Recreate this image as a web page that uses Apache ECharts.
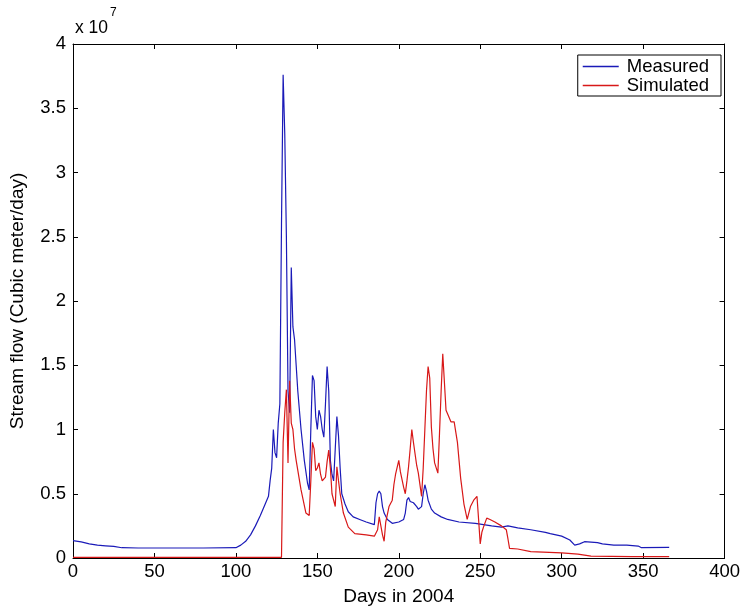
<!DOCTYPE html>
<html>
<head>
<meta charset="utf-8">
<script src="https://cdn.jsdelivr.net/npm/echarts@6/dist/echarts.min.js"></script>
<style>
  html, body { margin: 0; padding: 0; background: #fff; }
  #chart { width: 743px; height: 612px; }
</style>
</head>
<body>
<div id="chart"></div>
<script>
// values are in units of 1e7 cubic meter/day
const measuredDays = [0, 5, 10, 15, 20, 25, 30, 40, 60, 80, 100, 103, 106, 109, 112, 115, 118, 120, 121, 122, 123, 124, 125, 126, 127, 128, 129, 130, 131, 132, 133, 134, 135, 136, 137, 138, 140, 142, 144, 145, 146, 147, 148, 149, 150, 151, 152, 153, 154, 155, 156, 157, 158, 159, 160, 161, 162, 163, 164, 165, 167, 169, 172, 176, 180, 185, 186, 187, 188, 189, 190, 191, 193, 196, 200, 203, 204, 205, 206, 207, 209, 211, 212, 214, 215, 216, 217, 218, 220, 222, 226, 230, 237, 247, 257, 263, 267, 273, 281, 290, 293, 300, 305, 308, 311, 314, 322, 325, 332, 340, 347, 349, 366]
const measuredFlow = [0.135, 0.125, 0.11, 0.1, 0.095, 0.09, 0.08, 0.078, 0.078, 0.078, 0.08, 0.1, 0.13, 0.18, 0.25, 0.33, 0.42, 0.48, 0.6, 0.7, 1.0, 0.82, 0.78, 1.05, 1.2, 2.6, 3.76, 3.3, 2.5, 1.3, 1.13, 2.26, 1.8, 1.7, 1.5, 1.3, 1.0, 0.76, 0.58, 0.53, 1.0, 1.42, 1.38, 1.1, 1.0, 1.15, 1.1, 1.0, 0.94, 1.2, 1.49, 1.3, 0.76, 0.65, 0.6, 0.85, 1.1, 0.95, 0.7, 0.5, 0.42, 0.36, 0.32, 0.3, 0.28, 0.26, 0.43, 0.5, 0.52, 0.5, 0.4, 0.35, 0.3, 0.27, 0.28, 0.3, 0.35, 0.45, 0.47, 0.44, 0.43, 0.4, 0.38, 0.4, 0.5, 0.57, 0.52, 0.45, 0.38, 0.35, 0.32, 0.3, 0.28, 0.27, 0.25, 0.24, 0.25, 0.235, 0.22, 0.2, 0.19, 0.17, 0.14, 0.1, 0.11, 0.127, 0.12, 0.11, 0.1, 0.1, 0.093, 0.08, 0.083]

const simulatedDays = [0, 128, 129, 130, 131, 132, 133, 134, 135, 136, 137, 140, 143, 145, 146, 147, 148, 149, 150, 151, 152, 153, 155, 156, 157, 158, 159, 161, 162, 163, 164, 166, 169, 173, 180, 185, 187, 188, 189, 190, 191, 192, 194, 196, 197, 198, 200, 201, 203, 204, 205, 206, 207, 208, 209, 211, 212, 214, 215, 216, 217, 218, 219, 220, 221, 222, 224, 225, 226, 227, 228, 229, 230, 232, 234, 236, 238, 240, 242, 244, 246, 248, 249, 250, 251, 252, 254, 256, 259, 263, 266, 267, 268, 273, 281, 300, 310, 318, 343, 366]
const simulatedFlow = [0.005, 0.005, 0.9, 1.13, 1.31, 0.74, 1.38, 1.05, 1.0, 0.85, 0.76, 0.53, 0.35, 0.33, 0.6, 0.9, 0.85, 0.68, 0.7, 0.74, 0.65, 0.6, 0.63, 0.75, 0.84, 0.7, 0.5, 0.4, 0.71, 0.6, 0.5, 0.35, 0.24, 0.19, 0.18, 0.17, 0.22, 0.32, 0.25, 0.18, 0.13, 0.28, 0.4, 0.45, 0.57, 0.65, 0.76, 0.67, 0.55, 0.5, 0.6, 0.71, 0.85, 1.0, 0.9, 0.72, 0.66, 0.48, 0.7, 1.0, 1.3, 1.49, 1.4, 1.02, 0.85, 0.74, 0.66, 0.97, 1.3, 1.59, 1.37, 1.15, 1.12, 1.06, 1.06, 0.9, 0.62, 0.42, 0.3, 0.4, 0.45, 0.48, 0.3, 0.11, 0.2, 0.24, 0.31, 0.3, 0.28, 0.25, 0.22, 0.15, 0.075, 0.07, 0.05, 0.04, 0.03, 0.015, 0.01, 0.01]

const xTicks = { min: 0, max: 400, interval: 50 }
const yTicks = { min: 0, max: 4, interval: 0.5 }

const font = 'Liberation Sans, Arial, sans-serif'

function pairs (xs, ys) {
  return xs.map((x, i) => [x, ys[i]])
}

// mirror axes for the matlab style box (top / right), no labels
function mirrorAxis (base) {
  return Object.assign({
    type: 'value',
    axisLine: { show: true, onZero: false, lineStyle: { color: '#000', width: 1 } },
    axisTick: { show: true, inside: true, length: 5, lineStyle: { color: '#000' } },
    axisLabel: { show: false },
    splitLine: { show: false }
  }, base)
}

let myChart = echarts.init(document.getElementById('chart'))
myChart.setOption({
  animation: false,
  backgroundColor: '#fff',
  textStyle: { fontFamily: font },
  grid: { left: 73, right: 16, top: 44, bottom: 54, containLabel: false },
  legend: {
    orient: 'vertical',
    right: 22,
    top: 55,
    padding: [2, 12, 1, 5],
    itemGap: 0,
    itemWidth: 36,
    itemHeight: 1.5,
    icon: 'rect',
    backgroundColor: '#fff',
    borderColor: '#000',
    borderWidth: 1,
    borderRadius: 0,
    textStyle: { fontFamily: font, fontSize: 18.5, color: '#000', padding: [0, 0, 0, 3] },
    data: ['Measured', 'Simulated']
  },
  graphic: [{
    type: 'text',
    left: 75,
    top: 7,
    style: {
      text: '{a|x 10}{b|7}',
      rich: {
        a: { fontFamily: font, fontSize: 17.5, fill: '#000', verticalAlign: 'bottom', padding: [12, 0, 0, 0] },
        b: { fontFamily: font, fontSize: 12, fill: '#000', verticalAlign: 'top', padding: [0, 0, 12, 2] }
      }
    }
  }],
  xAxis: [
    {
      type: 'value',
      min: xTicks.min,
      max: xTicks.max,
      interval: xTicks.interval,
      name: 'Days in 2004',
      nameLocation: 'middle',
      nameGap: 29,
      nameTextStyle: { fontFamily: font, fontSize: 19, color: '#000' },
      axisLine: { show: true, onZero: false, lineStyle: { color: '#000', width: 1 } },
      axisTick: { show: true, inside: true, length: 5, lineStyle: { color: '#000' } },
      axisLabel: { color: '#000', fontFamily: font, fontSize: 18.5, margin: 4 },
      splitLine: { show: false }
    },
    mirrorAxis({ position: 'top', min: xTicks.min, max: xTicks.max, interval: xTicks.interval })
  ],
  yAxis: [
    {
      type: 'value',
      min: yTicks.min,
      max: yTicks.max,
      interval: yTicks.interval,
      name: 'Stream flow (Cubic meter/day)',
      nameLocation: 'middle',
      nameGap: 46,
      nameRotate: 90,
      nameTextStyle: { fontFamily: font, fontSize: 19, color: '#000' },
      axisLine: { show: true, onZero: false, lineStyle: { color: '#000', width: 1 } },
      axisTick: { show: true, inside: true, length: 5, lineStyle: { color: '#000' } },
      axisLabel: { color: '#000', fontFamily: font, fontSize: 18.5, margin: 7 },
      splitLine: { show: false }
    },
    mirrorAxis({ position: 'right', min: yTicks.min, max: yTicks.max, interval: yTicks.interval })
  ],
  series: [
    {
      name: 'Measured',
      type: 'line',
      symbol: 'none',
      color: '#1a1ab8',
      lineStyle: { width: 1.2, color: '#1a1ab8' },
      data: pairs(measuredDays, measuredFlow)
    },
    {
      name: 'Simulated',
      type: 'line',
      symbol: 'none',
      color: '#d81818',
      lineStyle: { width: 1.2, color: '#d81818' },
      data: pairs(simulatedDays, simulatedFlow)
    }
  ]
})
</script>
</body>
</html>
